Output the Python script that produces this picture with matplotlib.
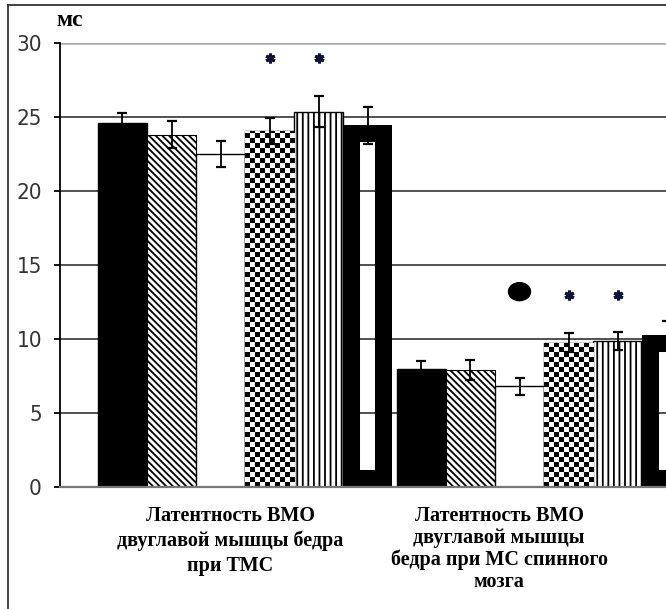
import numpy as np
import matplotlib
matplotlib.use("Agg")
import matplotlib.pyplot as plt
from matplotlib.patches import Ellipse
from matplotlib.lines import Line2D
from matplotlib.transforms import blended_transform_factory

# Two measurements, six subject groups each
categories = [
    "Латентность ВМО\nдвуглавой мышцы бедра\nпри ТМС",
    "Латентность ВМО\nдвуглавой мышцы\nбедра при МС спинного\nмозга",
]
group_styles = ["solid", "diagonal", "white", "checker", "stripes", "frame"]

means_tms = [24.6, 23.8, 22.5, 24.05, 25.35, 24.45]
err_tms = [0.7, 0.9, 0.9, 0.9, 1.05, 1.25]
means_sc = [7.95, 7.9, 6.8, 9.75, 9.85, 10.25]
err_sc = [0.55, 0.7, 0.55, 0.65, 0.6, 0.95]

# significance markers: (category, group index, y)
star_marks = [(0, 3, 29.0), (0, 4, 29.0), (1, 3, 13.0), (1, 4, 13.0)]
dot_marks = [(1, 2, 13.2)]

yticks = [0, 5, 10, 15, 20, 25, 30]
y_unit = "мс"

means = [means_tms, means_sc]
errs = [err_tms, err_sc]

W, H, DPI = 666, 609, 100
fig = plt.figure(figsize=(W / DPI, H / DPI), dpi=DPI)
ax = fig.add_axes([60 / W, 122 / H, 606 / W, 444 / H])

bar_w = 0.164
centers = np.arange(len(categories))
n = len(group_styles)
offsets = (np.arange(n) - (n - 1) / 2) * bar_w

xlim = (-0.619, 1.408)
ylim = (0, 30)
ax.set_xlim(*xlim)
ax.set_ylim(*ylim)

# horizontal grid lines
for v in yticks[1:-1]:
    ax.axhline(v, color="#222222", lw=1.1, zorder=0.5)
ax.axhline(yticks[-1], color="#aaaaaa", lw=1.8, zorder=0.5)

px_x = 606 / (xlim[1] - xlim[0])
px_y = 444 / (ylim[1] - ylim[0])
cell = 5.0

plt.rcParams["hatch.linewidth"] = 1.3

for ci, c in enumerate(centers):
    for gi, style in enumerate(group_styles):
        x = c + offsets[gi]
        val = means[ci][gi]
        if style == "solid":
            ax.bar(x, val, bar_w, color="black", edgecolor="black", lw=1, zorder=2)
        elif style == "diagonal":
            ax.bar(x, val, bar_w, color="white", edgecolor="black", lw=0.8,
                   hatch="\\\\\\\\\\", zorder=2)
        elif style == "white":
            ax.bar(x, val, bar_w, color="white", edgecolor="black", lw=1, zorder=2)
        elif style == "stripes":
            ax.bar(x, val, bar_w, color="white", edgecolor="black", lw=1,
                   hatch="|||", zorder=2)
        elif style == "checker":
            bars = ax.bar(x, val, bar_w, color="white", edgecolor="black", lw=1, zorder=2)
            rect = bars[0]
            left = x - bar_w / 2
            ncols = int(round(bar_w * px_x / cell))
            nrows = int(round((ylim[1] - ylim[0]) * px_y / cell))
            board = (np.indices((nrows, ncols)).sum(axis=0) % 2).astype(float)
            im = ax.imshow(board, cmap="gray", vmin=0, vmax=1, origin="lower",
                           extent=(left, left + bar_w, ylim[0], ylim[1]),
                           aspect="auto", interpolation="nearest", zorder=2.1)
            im.set_clip_path(rect)
        elif style == "frame":
            bars = ax.bar(x, val, bar_w, facecolor="none", edgecolor="black",
                          lw=24.5, zorder=2)
            bars[0].set_clip_path(bars[0])
        ax.errorbar(x, val, yerr=errs[ci][gi], fmt="none", ecolor="black",
                    elinewidth=1.3, capsize=3.5, capthick=1.6, zorder=3)

ax.set_xlim(*xlim)
ax.set_ylim(*ylim)

for ci, gi, y in star_marks:
    ax.plot(centers[ci] + offsets[gi], y, marker=(6, 2, 0), ms=7, mew=2.2,
            color="#111133", zorder=4, clip_on=False)
for ci, gi, y in dot_marks:
    ax.add_patch(Ellipse((centers[ci] + offsets[gi], y), 22 / px_x, 18 / px_y,
                         color="black", zorder=4))

# axes styling
for s in ("top", "right"):
    ax.spines[s].set_visible(False)
ax.spines["left"].set_color("black")
ax.spines["left"].set_linewidth(1.3)
ax.spines["bottom"].set_color("#777777")
ax.spines["bottom"].set_linewidth(1.6)
ax.set_xticks([])
ax.set_yticks(yticks)
ax.tick_params(axis="y", direction="out", length=4, width=1.3, pad=9,
               labelsize=16, labelcolor="#333333")
for lab in ax.get_yticklabels():
    lab.set_fontfamily(["DejaVu Sans"])
    lab.set_fontstretch("condensed")

fig.text(56 / W, 1 - 26 / H, y_unit, ha="left", va="baseline",
         fontsize=17, fontweight="bold", family=["Liberation Serif", "DejaVu Serif"])

trans = blended_transform_factory(ax.transData, ax.transAxes)
label_shift = [-0.05, -0.15]
label_spacing = [1.3, 1.12]
for ci, c in enumerate(centers):
    ax.text(c + label_shift[ci], -0.043, categories[ci], transform=trans,
            ha="center", va="top", multialignment="center", fontsize=14.5,
            fontweight="bold", family=["Liberation Serif", "DejaVu Serif"],
            linespacing=label_spacing[ci], clip_on=False)

# outer frame
fig.add_artist(Line2D([8 / W, 8 / W], [0, 1 - 5 / H], transform=fig.transFigure,
                      color="#333333", lw=1.3))
fig.add_artist(Line2D([8 / W, 1], [1 - 5 / H, 1 - 5 / H], transform=fig.transFigure,
                      color="#333333", lw=1.3))

fig.savefig("out.png", dpi=DPI)
